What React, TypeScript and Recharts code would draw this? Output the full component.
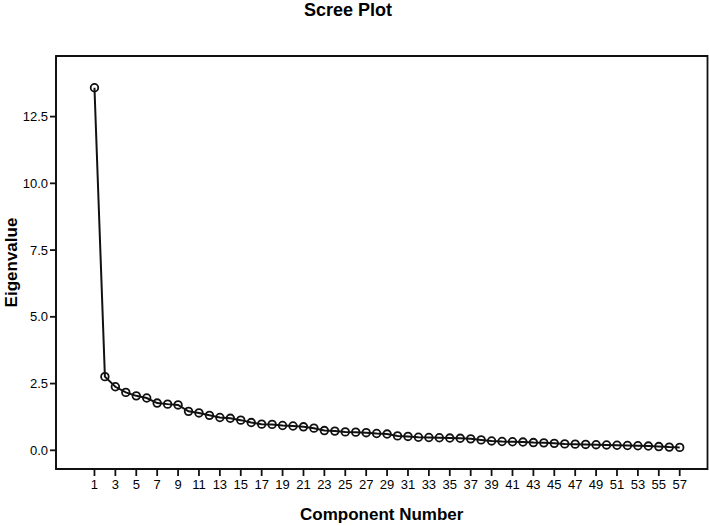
import React from "react";
import { LineChart, Line, XAxis, YAxis, ReferenceArea, Label } from "recharts";

const components = Array.from({ length: 57 }, (_, i) => i + 1);

const eigenvalues = [
  13.58, 2.76, 2.38, 2.17, 2.04, 1.96, 1.77, 1.73, 1.7, 1.46,
  1.4, 1.31, 1.23, 1.2, 1.13, 1.04, 0.98, 0.97, 0.93, 0.91,
  0.88, 0.83, 0.74, 0.72, 0.69, 0.68, 0.66, 0.63, 0.61, 0.54,
  0.52, 0.49, 0.48, 0.47, 0.46, 0.45, 0.43, 0.39, 0.35, 0.33,
  0.32, 0.31, 0.29, 0.28, 0.26, 0.24, 0.23, 0.22, 0.21, 0.2,
  0.19, 0.18, 0.17, 0.16, 0.14, 0.12, 0.11,
];

const xTicks = components.filter((c) => c % 2 === 1);
const yTicks = [0, 2.5, 5, 7.5, 10, 12.5];

const X_MIN = -2.68;
const X_MAX = 59.66;
const Y_MIN = -0.7;
const Y_MAX = 14.77;

const data = components.map((c, i) => ({ component: c, eigenvalue: eigenvalues[i] }));

const font = "'Liberation Sans', Arial, sans-serif";

export default function App() {
  return (
    <div
      style={{
        position: "absolute",
        left: 0,
        top: 0,
        width: 709,
        height: 526,
        background: "#fff",
        fontFamily: font,
      }}
    >
      <div
        style={{
          position: "absolute",
          top: 0,
          left: 0,
          width: 696,
          textAlign: "center",
          fontWeight: "bold",
          fontSize: 18,
          lineHeight: "20px",
          color: "#000",
        }}
      >
        Scree Plot
      </div>
      <LineChart
        width={709}
        height={526}
        data={data}
        margin={{ top: 56, right: 1.5, bottom: 0, left: 0 }}
      >
        <XAxis
          dataKey="component"
          type="number"
          domain={[X_MIN, X_MAX]}
          ticks={xTicks}
          interval={0}
          allowDataOverflow
          height={57}
          tickSize={7}
          tickMargin={4}
          axisLine={{ stroke: "#111", strokeWidth: 1.8 }}
          tickLine={{ stroke: "#111", strokeWidth: 1.8 }}
          tick={{ fill: "#000", fontSize: 13, fontFamily: font }}
        >
          <Label
            value="Component Number"
            position="insideBottom"
            offset={6}
            style={{ fontWeight: "bold", fontSize: 17, fill: "#000", fontFamily: font }}
          />
        </XAxis>
        <YAxis
          type="number"
          domain={[Y_MIN, Y_MAX]}
          ticks={yTicks}
          allowDataOverflow
          width={56}
          tickSize={6}
          tickMargin={2}
          tickFormatter={(v: number) => v.toFixed(1)}
          axisLine={{ stroke: "#111", strokeWidth: 1.8 }}
          tickLine={{ stroke: "#111", strokeWidth: 1.8 }}
          tick={{ fill: "#000", fontSize: 13, fontFamily: font }}
        >
          <Label
            value="Eigenvalue"
            angle={-90}
            position="insideLeft"
            offset={11}
            style={{ textAnchor: "middle", fontWeight: "bold", fontSize: 17, fill: "#000", fontFamily: font }}
          />
        </YAxis>
        <ReferenceArea
          x1={X_MIN}
          x2={X_MAX}
          y1={Y_MIN}
          y2={Y_MAX}
          fill="none"
          stroke="#111"
          strokeWidth={1.8}
          ifOverflow="visible"
        />
        <Line
          dataKey="eigenvalue"
          type="linear"
          stroke="#111"
          strokeWidth={2}
          dot={{ r: 3.8, fill: "none", stroke: "#111", strokeWidth: 1.8 }}
          isAnimationActive={false}
        />
      </LineChart>
    </div>
  );
}
